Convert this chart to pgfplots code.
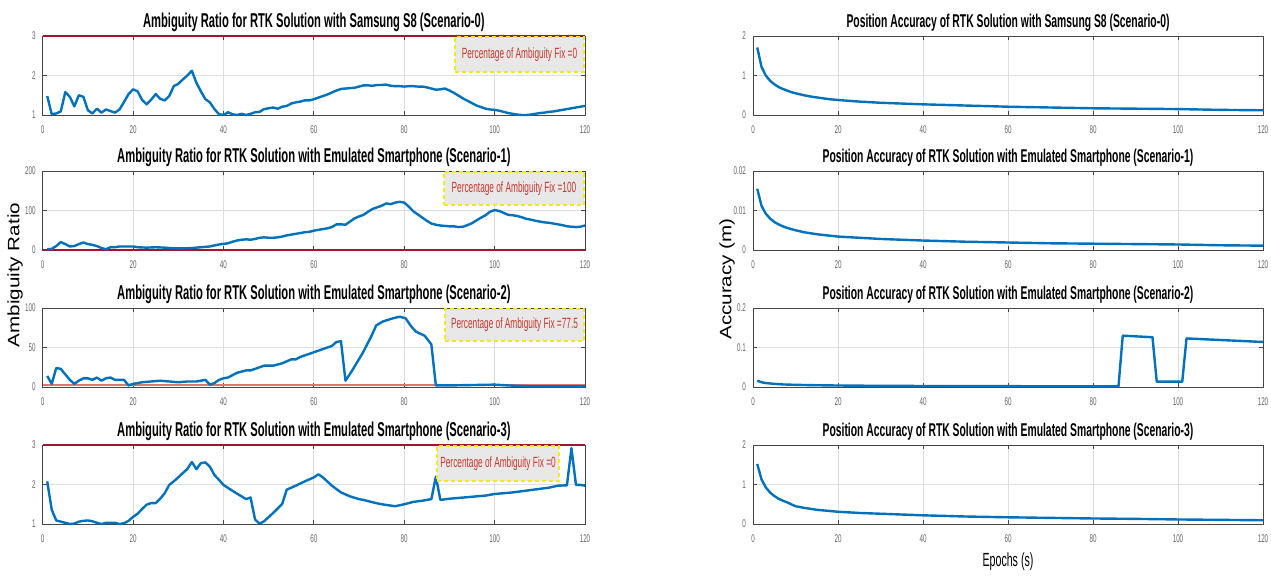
\documentclass[border=0pt]{standalone}
\usepackage{fontspec}
\setmainfont{Liberation Sans}
\newfontfamily\cond[FakeStretch=0.56]{Liberation Sans}
\usepackage{graphicx}
\usepackage{pgfplots}
\pgfplotsset{compat=1.18}
\definecolor{mblue}{rgb}{0,0.447,0.741}
\definecolor{mred}{rgb}{0.64,0.08,0.18}
\definecolor{pinkred}{RGB}{225,115,115}
\definecolor{boxred}{RGB}{200,55,45}
\definecolor{gridc}{RGB}{222,222,222}
\definecolor{axc}{RGB}{70,70,70}
\definecolor{boxyel}{RGB}{245,235,20}
\tikzset{
  fixbox/.style={fill=gray!18, draw=boxyel, line width=1pt, dash pattern=on 2pt off 1.5pt,
    inner sep=0pt, text=boxred, font=\cond\fontsize{7.4}{8}\selectfont},
  blueline/.style={mblue, line width=1.2pt, line join=round},
}
\pgfplotsset{
  mstyle/.style={
    scale only axis, height=39.5pt,
    xmin=0, xmax=120, xtick={0,20,...,120},
    grid=major, major grid style={gridc, line width=0.4pt},
    axis line style={axc, line width=0.5pt},
    tick align=inside, major tick length=2pt,
    tick style={axc, line width=0.4pt},
    every tick label/.append style={font=\cond\fontsize{5.6}{6}\selectfont, text=black!60},
    x tick label style={yshift=-2pt},
    /pgf/number format/assume math mode=true,
    every axis title shift=0pt,
    clip=false,
  },
  lstyle/.style={mstyle, width=271.15pt,
    title style={font=\cond\bfseries\fontsize{10}{11}\selectfont, anchor=base, at={(0.5,1)}, yshift=4.25pt}},
  rstyle/.style={mstyle, width=255pt,
    title style={font=\cond\bfseries\fontsize{9.25}{10}\selectfont, anchor=base, at={(0.5,1)}, yshift=4.25pt}},
}
\begin{document}
\begin{tikzpicture}
\useasboundingbox (0,0) rectangle (635.5pt,-287.5pt);
% ---------------- Left column ----------------
\begin{axis}[lstyle, at={(21.35pt,-57.5pt)}, anchor=south west,
  ymin=1, ymax=3, ytick={1,2,3},
  title={Ambiguity Ratio for RTK Solution with Samsung S8 (Scenario-0)}]
\addplot[mred, line width=0.6pt] coordinates {(0,3) (120,3)};
\addplot[blueline] table {
1 1.48
2 1.02
3 1.04
4 1.09
5 1.58
6 1.46
7 1.22
8 1.50
9 1.46
10 1.12
11 1.04
12 1.16
13 1.06
14 1.14
15 1.10
16 1.06
17 1.14
18 1.33
19 1.53
20 1.65
21 1.60
22 1.38
23 1.27
24 1.39
25 1.53
26 1.41
27 1.37
28 1.48
29 1.73
30 1.79
31 1.90
32 2.00
33 2.12
34 1.82
35 1.60
36 1.40
37 1.32
38 1.15
39 1.02
40 1.00
41 1.07
42 1.02
43 1.00
44 1.03
45 1.00
46 1.03
47 1.07
48 1.08
49 1.15
50 1.17
51 1.19
52 1.16
53 1.21
54 1.23
55 1.29
56 1.32
57 1.34
58 1.37
59 1.37
60 1.40
61 1.44
62 1.48
63 1.52
64 1.57
65 1.62
66 1.66
67 1.67
68 1.68
69 1.69
70 1.72
71 1.75
72 1.75
73 1.74
74 1.76
75 1.76
76 1.77
77 1.74
78 1.73
79 1.73
80 1.72
81 1.73
82 1.73
83 1.72
84 1.72
85 1.70
86 1.67
87 1.64
88 1.65
89 1.67
90 1.62
91 1.56
92 1.49
93 1.42
94 1.36
95 1.30
96 1.24
97 1.20
98 1.16
99 1.14
100 1.13
101 1.11
102 1.08
103 1.05
104 1.03
105 1.01
106 1.00
107 1.00
108 1.01
109 1.03
110 1.05
111 1.06
112 1.08
113 1.09
114 1.11
115 1.13
116 1.15
117 1.17
118 1.19
119 1.21
120 1.23
};
\node[fixbox, minimum width=64.5pt, minimum height=17.5pt, anchor=north east] at (rel axis cs:1,1) {Percentage of Ambiguity Fix =0};
\end{axis}

\begin{axis}[lstyle, at={(21.35pt,-125pt)}, anchor=south west,
  ymin=0, ymax=200, ytick={0,100,200},
  title={Ambiguity Ratio for RTK Solution with Emulated Smartphone (Scenario-1)}]
\addplot[mred, line width=0.6pt] coordinates {(0,0) (120,0)};
\addplot[blueline] table {
1 2
2 3
3 10
4 20
5 15
6 9
7 10
8 15
9 19
10 15
11 13
12 10
13 5
14 2
15 7
16 7
17 9
18 9
19 9
20 9
21 7
23 6
25 7
27 6
29 4
31 4
33 5
35 7
37 9
39 14
41 17
42 21
43 24
44 26
45 27
46 26
47 28
48 31
49 32
50 31
51 31
52 32
53 34
54 37
55 39
56 41
57 43
58 45
59 46
60 49
61 51
62 53
63 55
64 58
65 65
66 65
67 64
68 72
69 80
70 85
71 89
72 97
73 104
74 108
75 112
76 118
77 116
78 120
79 122
80 120
81 110
82 98
83 90
84 82
85 74
86 67
87 64
88 62
89 61
90 60
91 60
92 58
93 59
94 63
95 68
96 75
97 82
98 88
99 97
100 101
101 99
102 94
103 89
104 88
105 86
106 83
107 79
108 77
109 74
110 72
111 70
112 69
113 67
114 65
115 63
116 60
117 59
118 58
119 59
120 62
};
\node[fixbox, minimum width=70pt, minimum height=16.5pt, anchor=north east] at (rel axis cs:1,1) {Percentage of Ambiguity Fix =100};
\end{axis}

\begin{axis}[lstyle, at={(21.35pt,-193.5pt)}, anchor=south west,
  ymin=0, ymax=100, ytick={0,50,100},
  title={Ambiguity Ratio for RTK Solution with Emulated Smartphone (Scenario-2)}]
\addplot[pinkred, line width=1pt] coordinates {(0,2) (120,2)};
\addplot[blueline] table {
1 14
2 4
3 24
4 23
5 16
6 9
7 4
8 8
9 11
10 11
11 9
12 12
13 8
14 11
15 12
16 9
17 9
18 9
19 2
20 4
22 6
24 7
26 8
28 7
30 6
32 7
34 7
36 9
37 3
38 5
39 9
40 11
41 12
43 18
45 21
46 21
47 23
49 27
51 27
53 30
55 35
56 35
57 38
59 42
61 46
63 50
64 52
65 57
66 58
67 8
68.6 22
70.8 43
72.7 64
73.8 78
75.3 83
76.4 85
77.5 87
79 89
80.3 87
81.5 77
82.6 70
84.5 65
86 54
87 2
90 2
95 2.5
100 3
103 2
108 0.8
120 0.8
};
\node[fixbox, minimum width=69.5pt, minimum height=16pt, anchor=north east] at (rel axis cs:1,1) {Percentage of Ambiguity Fix =77.5};
\end{axis}

\begin{axis}[lstyle, at={(21.35pt,-262pt)}, anchor=south west,
  ymin=1, ymax=3, ytick={1,2,3},
  title={Ambiguity Ratio for RTK Solution with Emulated Smartphone (Scenario-3)}]
\addplot[mred, line width=0.6pt] coordinates {(0,3) (120,3)};
\addplot[blueline] table {
1 2.08
2 1.36
3 1.09
4 1.06
5 1.03
6 1.00
7 1.01
8 1.06
9 1.08
10 1.09
11 1.07
12 1.03
13 1.00
14 1.03
15 1.03
16 1.03
17 1.00
18 1.02
19 1.08
20 1.18
21 1.26
22 1.38
23 1.49
24 1.53
25 1.53
26 1.64
27 1.78
28 1.99
29 2.08
30 2.18
31 2.29
32 2.39
33 2.57
34 2.39
35 2.54
36 2.56
37 2.45
38 2.24
39 2.12
40 1.99
42 1.84
44 1.70
45 1.63
46 1.67
47 1.11
48 1.01
49 1.07
51 1.28
53 1.51
54 1.87
56 1.97
58 2.08
60 2.18
61 2.26
62 2.18
64 1.97
66 1.80
68 1.70
70 1.63
71 1.61
73 1.55
75 1.50
78 1.45
80 1.50
82 1.56
84 1.59
86 1.63
87 2.20
88 1.61
90 1.64
92 1.66
94 1.68
96 1.70
98 1.72
100 1.76
102 1.78
104 1.80
106 1.83
108 1.86
110 1.89
112 1.92
114 1.97
116 1.98
117 2.92
118 1.99
119 1.99
120 1.97
};
\node[fixbox, minimum width=61pt, minimum height=17.5pt, anchor=north east] at (rel axis cs:0.954,1) {Percentage of Ambiguity Fix =0};
\end{axis}

% ---------------- Right column ----------------
\begin{axis}[rstyle, at={(376.5pt,-57.5pt)}, anchor=south west,
  ymin=0, ymax=2, ytick={0,1,2},
  title={Position Accuracy of RTK Solution with Samsung S8 (Scenario-0)}]
\addplot[blueline] table {
1 1.71
2 1.22
3 1.00
4 0.87
5 0.78
6 0.71
7 0.66
8 0.62
9 0.58
10 0.55
12 0.50
14 0.46
16 0.43
18 0.40
20 0.38
25 0.34
30 0.31
35 0.29
40 0.27
50 0.24
60 0.21
70 0.19
80 0.17
90 0.16
100 0.15
110 0.13
120 0.12
};
\end{axis}

\begin{axis}[rstyle, at={(376.5pt,-125pt)}, anchor=south west,
  ymin=0, ymax=0.02, ytick={0,0.01,0.02}, yticklabels={0,0.01,0.02}, scaled y ticks=false,
  title={Position Accuracy of RTK Solution with Emulated Smartphone (Scenario-1)}]
\addplot[blueline] table {
1 0.0155
2 0.0112
3 0.0092
4 0.0080
5 0.0071
6 0.0065
7 0.0060
8 0.0056
10 0.0050
12 0.0045
15 0.0040
20 0.0034
25 0.0031
30 0.0028
40 0.0024
50 0.0021
60 0.0019
70 0.0017
80 0.0016
90 0.0015
100 0.0014
110 0.0012
120 0.0011
};
\end{axis}

\begin{axis}[rstyle, at={(376.5pt,-193.5pt)}, anchor=south west,
  ymin=0, ymax=0.2, ytick={0,0.1,0.2}, yticklabels={0,0.1,0.2}, scaled y ticks=false,
  title={Position Accuracy of RTK Solution with Emulated Smartphone (Scenario-2)}]
\addplot[blueline] table {
1 0.016
2 0.012
3 0.010
4 0.009
5 0.008
7 0.0065
10 0.0055
15 0.0045
20 0.0038
30 0.0030
40 0.0026
60 0.0021
80 0.0018
86 0.0017
87 0.130
94 0.126
95 0.0135
101 0.0135
102 0.123
120 0.114
};
\end{axis}

\begin{axis}[rstyle, at={(376.5pt,-262pt)}, anchor=south west,
  ymin=0, ymax=2, ytick={0,1,2},
  title={Position Accuracy of RTK Solution with Emulated Smartphone (Scenario-3)}]
\addplot[blueline] table {
1 1.52
2 1.13
3 0.93
4 0.80
5 0.71
6 0.64
7 0.59
8 0.55
10 0.45
12 0.41
15 0.36
20 0.31
25 0.28
30 0.26
40 0.22
50 0.19
60 0.17
70 0.155
80 0.14
90 0.13
100 0.115
110 0.105
120 0.095
};
\end{axis}

% axis labels
\node[rotate=90, font=\fontsize{10.3}{11}\selectfont] at (7.5pt,-137.5pt) {\scalebox{1}[0.8]{Ambiguity Ratio}};
\node[rotate=90, font=\fontsize{10.3}{11}\selectfont] at (363.5pt,-139.5pt) {\scalebox{1}[0.8]{Accuracy (m)}};
\node[font=\cond\fontsize{9.5}{10}\selectfont] at (504pt,-281pt) {Epochs (s)};
\end{tikzpicture}
\end{document}
